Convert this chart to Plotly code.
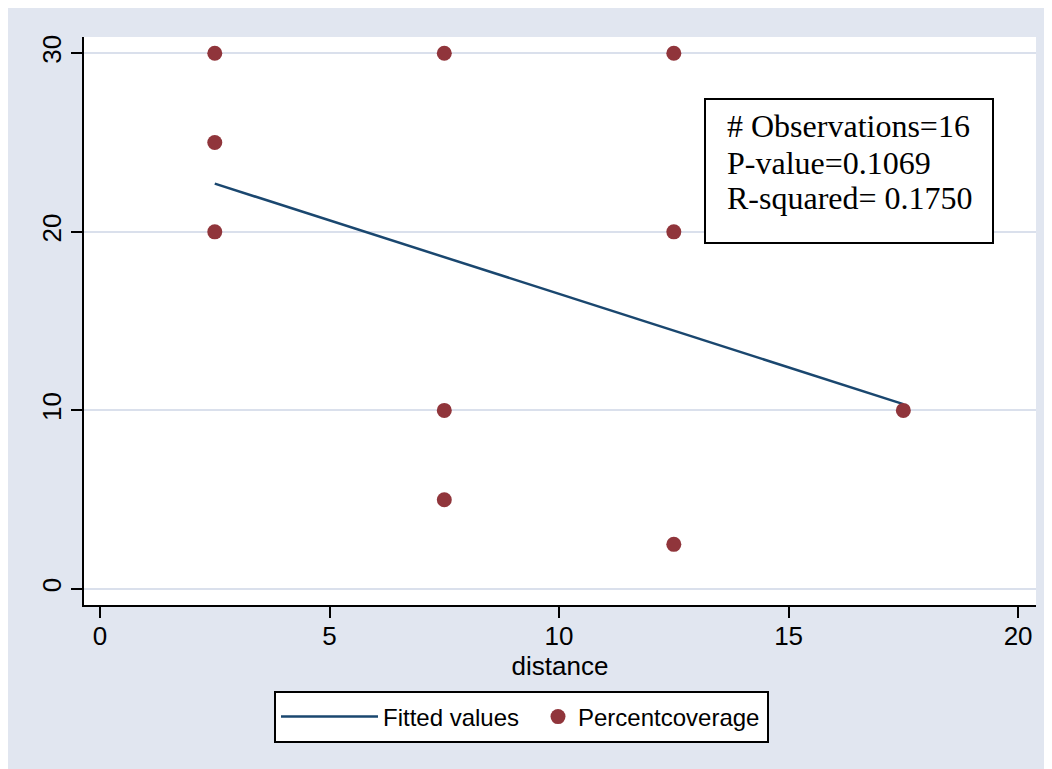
import plotly.graph_objects as go

# ---- data ----
distance = [2.5, 2.5, 2.5, 7.5, 7.5, 7.5, 12.5, 12.5, 12.5, 17.5]
percent_coverage = [30, 25, 20, 30, 10, 5, 30, 20, 2.5, 10]
fitted_x = [2.5, 17.5]
fitted_y = [22.7, 10.35]
x_ticks = [0, 5, 10, 15, 20]
y_ticks = [0, 10, 20, 30]
stats_lines = ["# Observations=16", "P-value=0.1069", "R-squared= 0.1750"]

NAVY = "#1A476F"
MAROON = "#90353B"
BG = "#E1E6F0"
GRID = "#DAE0EC"
SANS = "Liberation Sans, Arial, sans-serif"
SERIF = "Liberation Serif, Times New Roman, serif"

# page is offset by the 8px body margin
W, H = 1044, 761
L, R, T, B = 76, 16, 29, 164
PW, PH = W - L - R, H - T - B


def px_x(p):  # page pixel -> paper
    return (p - 8 - L) / PW


def px_y(p):
    return (H - B - (p - 8)) / PH


fig = go.Figure()
fig.add_trace(go.Scatter(
    x=fitted_x, y=fitted_y, mode="lines", name="Fitted values",
    line=dict(color=NAVY, width=2.5), legend="legend",
))
fig.add_trace(go.Scatter(
    x=distance, y=percent_coverage, mode="markers", name="Percentcoverage",
    marker=dict(color=MAROON, size=15, symbol="circle", line=dict(width=0)),
    legend="legend2",
))

shapes = [
    # stats box
    dict(type="rect", xref="paper", yref="paper", layer="above",
         x0=px_x(705), x1=px_x(993), y0=px_y(243), y1=px_y(99),
         fillcolor="white", line=dict(color="black", width=2)),
    # legend box
    dict(type="rect", xref="paper", yref="paper", layer="above",
         x0=px_x(275), x1=px_x(768), y0=px_y(742), y1=px_y(692),
         fillcolor="white", line=dict(color="black", width=2)),
]

annotations = []
for txt, yc in zip(stats_lines, [126.5, 162.5, 197.5]):
    annotations.append(dict(
        text=txt, xref="paper", yref="paper", x=px_x(725), y=px_y(yc),
        xanchor="left", yanchor="middle", showarrow=False,
        font=dict(family=SERIF, size=32, color="black"),
    ))

legend_common = dict(
    orientation="h", yanchor="middle", y=px_y(717), xanchor="left",
    bgcolor="rgba(0,0,0,0)", borderwidth=0,
    font=dict(family=SANS, size=24, color="black"),
)

fig.update_layout(
    width=W, height=H,
    margin=dict(l=L, r=R, t=T, b=B, pad=0),
    paper_bgcolor=BG, plot_bgcolor="white",
    font=dict(family=SANS, size=26, color="black"),
    showlegend=True,
    legend=dict(x=px_x(276), itemwidth=97, **legend_common),
    legend2=dict(x=px_x(538), itemwidth=30, **legend_common),
    shapes=shapes,
    annotations=annotations,
)

fig.update_xaxes(
    range=[-0.349, 20.39], tickvals=x_ticks, ticktext=[str(v) for v in x_ticks],
    showgrid=False, zeroline=False,
    showline=True, linecolor="black", linewidth=2,
    ticks="outside", ticklen=11, tickwidth=2, tickcolor="black",
    ticklabelstandoff=-4,
    tickfont=dict(family=SANS, size=26, color="black"),
    title=dict(text="distance", font=dict(family=SANS, size=26, color="black"), standoff=0),
)
fig.update_yaxes(
    range=[-0.896, 30.91], tickvals=y_ticks, ticktext=[str(v) for v in y_ticks],
    showgrid=True, gridcolor=GRID, gridwidth=2, zeroline=False,
    showline=True, linecolor="black", linewidth=2,
    ticks="outside", ticklen=11, tickwidth=2, tickcolor="black",
    tickangle=-90,
    tickfont=dict(family=SANS, size=26, color="black"),
)

fig.write_html("out.html")
